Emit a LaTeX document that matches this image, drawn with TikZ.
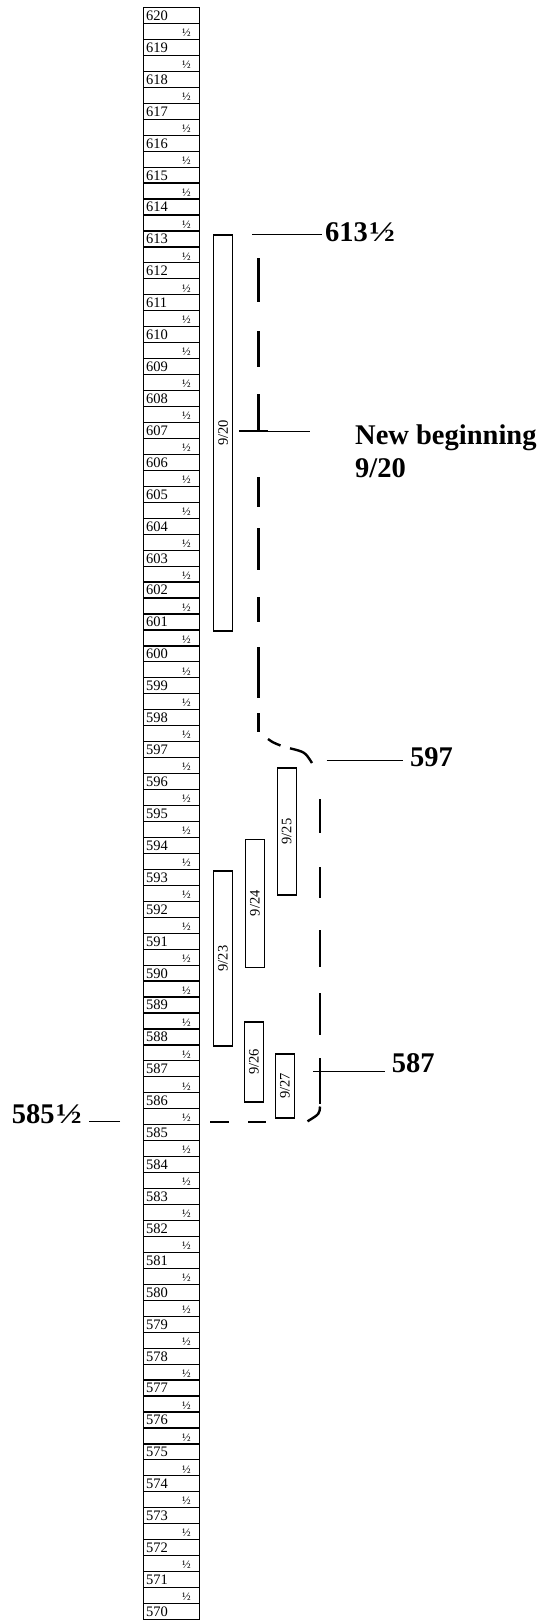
\documentclass[tikz,border=0pt]{standalone}
\usepackage{graphicx}
\usepackage{fontspec}
\setmainfont{Liberation Serif}
\newcommand{\bighalf}{\kern1.5pt\scalebox{1.2}[1]{½}}
\begin{document}
\begin{tikzpicture}[x=1pt,y=-1pt,
  rowcell/.style={draw, line width=1.2pt, minimum width=56pt, minimum height=15.96pt, inner sep=0pt, outer sep=0pt},
  rownum/.style={anchor=base west, inner sep=0pt, font=\fontsize{14.5}{16}\selectfont},
  rowhalf/.style={anchor=base west, inner sep=0pt, font=\fontsize{11.5}{13}\selectfont},
  datebox/.style={draw, line width=1.2pt, rotate=90, minimum height=19pt, inner sep=0pt, font=\fontsize{14.5}{16}\selectfont},
  biglabel/.style={font=\bfseries\fontsize{28.5}{33}\selectfont, inner sep=0pt},
  leader/.style={line width=1.1pt},
  dashseg/.style={line width=2.4pt}
]
\useasboundingbox (0,0) rectangle (542,1620);

% the column of rows
\foreach \i in {0,...,100}{
  \pgfmathsetmacro\yt{7.5+\i*15.96}
  \node[rowcell] (row\i) at (171.3,\yt+7.98) {};
  \ifodd\i\relax
    \node[rowhalf] (lab\i) at (182,\yt+13.2) {½};
  \else
    \pgfmathtruncatemacro\num{620-\i/2}
    \node[rownum] (lab\i) at (145.8,\yt+12.9) {\num};
  \fi
}

% date boxes
\node[datebox, minimum width=396pt] (d920) at (223.2,433) {9/20};
\node[datebox, minimum width=127pt] (d925) at (286.7,831.5) {9/25};
\node[datebox, minimum width=128pt] (d924) at (254.9,903.3) {9/24};
\node[datebox, minimum width=175pt] (d923) at (222.8,958.5) {9/23};
\node[datebox, minimum width=80pt] (d926) at (254,1061.9) {9/26};
\node[datebox, minimum width=64pt] (d927) at (285,1085.9) {9/27};

% labels
\node[biglabel, anchor=base west] (l613) at (325,241.7) {613\bighalf};
\coordinate (c613) at (252,234.5);
\draw[leader, shorten >=3pt] (c613) -- (c613 -| l613.west);

\node[biglabel, anchor=north west, align=left] (lnew) at (355,424.6) {New beginning\\9/20};
\coordinate (cnewA) at (239,431);
\coordinate (cnewC) at (268,431);
\coordinate (cnewB) at (310,431);
\draw[line width=0.8pt] (cnewA) -- (cnewB);
\draw[line width=1.6pt] (cnewA) -- (cnewC);

\node[biglabel, anchor=base west] (l597) at (410,766) {597};
\coordinate (c597) at (326.7,760.7);
\draw[leader, shorten >=6.7pt] (c597) -- (c597 -| l597.west);

\node[biglabel, anchor=base west] (l587) at (391.7,1072.7) {587};
\coordinate (c587) at (313.3,1071.7);
\draw[leader, shorten >=6.7pt] (c587) -- (c587 -| l587.west);

\node[biglabel, anchor=base west] (l585) at (11.7,1123.3) {585\bighalf};
\coordinate (c585) at (120,1121.7);
\draw[leader, shorten >=6.7pt] (c585) -- (c585 -| l585.east);

% dashed outline
\foreach \a/\b in {258/302, 331/367, 394/430, 477/507, 528/570, 597/622, 647/698, 713/732}
  \draw[dashseg] (258.5,\a) -- (258.5,\b);
\draw[dashseg] (268,739) .. controls (273,742.5) .. (280.5,745.5);
\draw[dashseg] (290,748.3) .. controls (305,752) .. (312,763);
\foreach \a/\b in {799/833, 867/898, 930/967, 993/1035, 1058/1104}
  \draw[dashseg] (320,\a) -- (320,\b);
\draw[dashseg] (320,1106.5) .. controls (319.5,1114) .. (307.5,1121.3);
\draw[dashseg] (248.3,1121.7) -- (265.7,1121.7);
\draw[dashseg] (210,1121.7) -- (229,1121.7);
\end{tikzpicture}
\end{document}
